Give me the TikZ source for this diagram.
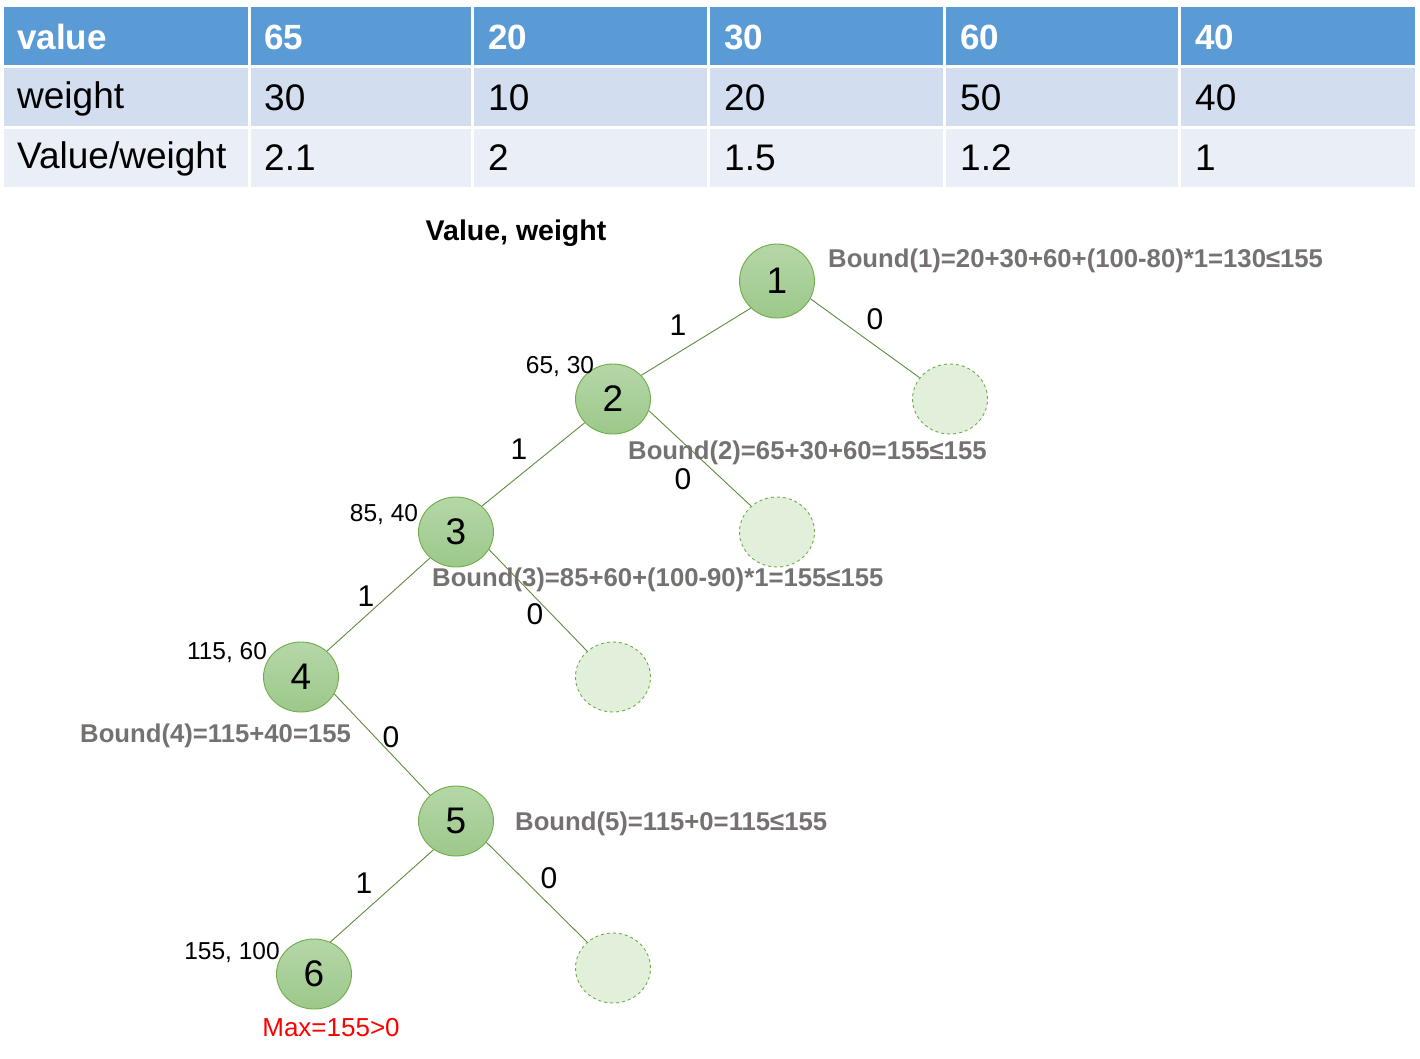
\documentclass[tikz,border=0pt]{standalone}
\usepackage{fontspec}
\setmainfont{Liberation Sans}
\usetikzlibrary{shapes.geometric}
\definecolor{hdr}{HTML}{5B9BD5}
\definecolor{rowa}{HTML}{D2DEEF}
\definecolor{rowb}{HTML}{E9EEF7}
\definecolor{gborder}{HTML}{70AD47}
\definecolor{gtop}{HTML}{B5D7A8}
\definecolor{gbot}{HTML}{9CC88A}
\definecolor{gpale}{HTML}{E2EFDA}
\definecolor{lbl}{HTML}{767171}
\definecolor{edgec}{HTML}{5E8C3E}
\tikzset{
  cellbox/.style={draw=white, line width=3pt},
  hdrtext/.style={anchor=west, inner sep=0pt, text=white, font=\fontsize{35}{40}\selectfont\bfseries},
  celltext/.style={anchor=west, inner sep=0pt, text=black, font=\fontsize{37}{40}\selectfont},
  knode/.style={ellipse, draw=gborder, line width=0.9pt, top color=gtop, bottom color=gbot, minimum width=75pt, minimum height=72pt, inner sep=0pt, font=\fontsize{37}{40}\selectfont},
  pnode/.style={ellipse, draw=gborder, dashed, line width=0.9pt, fill=gpale, minimum width=75pt, minimum height=70pt, inner sep=0pt},
  edgeline/.style={draw=edgec, line width=0.9pt},
  elabel/.style={inner sep=0pt, font=\fontsize{30}{32}\selectfont},
  vwlabel/.style={inner sep=0pt, font=\fontsize{24.5}{26}\selectfont},
  boundlabel/.style={anchor=west, inner sep=0pt, text=lbl, font=\fontsize{25.7}{28}\selectfont\bfseries},
}
\begin{document}
\begin{tikzpicture}[x=1pt,y=-1pt]
\useasboundingbox (0,0) rectangle (1420,1058);
% table
\foreach \xa/\xb in {2/249,249/472,472/708,708/944,944/1179,1179/1416}{
  \path[cellbox, fill=hdr] (\xa,5) rectangle (\xb,66);
  \path[cellbox, fill=rowa] (\xa,66) rectangle (\xb,127);
  \path[cellbox, fill=rowb] (\xa,127) rectangle (\xb,188);
}
\node[hdrtext] (h0) at (17,37) {value};
\node[hdrtext] (h1) at (264,37) {65};
\node[hdrtext] (h2) at (488,37) {20};
\node[hdrtext] (h3) at (724,37) {30};
\node[hdrtext] (h4) at (960,37) {60};
\node[hdrtext] (h5) at (1195,37) {40};
\node[celltext] (w0) at (17,99) {weight};
\node[celltext] (w1) at (264,98) {30};
\node[celltext] (w2) at (488,98) {10};
\node[celltext] (w3) at (724,98) {20};
\node[celltext] (w4) at (960,98) {50};
\node[celltext] (w5) at (1195,98) {40};
\node[celltext] (r0) at (17,159) {Value/weight};
\node[celltext] (r1) at (264,158) {2.1};
\node[celltext] (r2) at (488,158) {2};
\node[celltext] (r3) at (724,158) {1.5};
\node[celltext] (r4) at (960,158) {1.2};
\node[celltext] (r5) at (1195,158) {1};
% title
\node[inner sep=0pt, font=\fontsize{28.5}{30}\selectfont\bfseries] (title) at (516,233) {Value, weight};
% tree nodes
\node[knode, minimum height=74pt] (n1) at (777,281) {1};
\node[knode, minimum height=70pt] (n2) at (613,399) {2};
\node[knode, minimum height=70pt] (n3) at (456,532) {3};
\node[knode, minimum height=70pt] (n4) at (301,677) {4};
\node[knode, minimum height=70pt] (n5) at (456,821) {5};
\node[knode, minimum height=70pt] (n6) at (314,974) {6};
\node[pnode] (p1) at (950,399) {};
\node[pnode] (p2) at (777,532) {};
\node[pnode] (p3) at (613,677) {};
\node[pnode] (p5) at (613,968) {};
% edges
\draw[edgeline] (n1.226) -- (n2.40);
\draw[edgeline] (n1.-28) -- (p1.145);
\draw[edgeline] (n2.220) -- (n3.45);
\draw[edgeline] (n2.-18) -- (p2.135);
\draw[edgeline] (n3.225) -- (n4.45);
\draw[edgeline] (n3.-28) -- (p3.135);
\draw[edgeline] (n4.-27) -- (n5.135);
\draw[edgeline] (n5.232) -- (n6.63);
\draw[edgeline] (n5.-35) -- (p5.135);
% edge labels
\node[elabel] (e12) at (678,325) {1};
\node[elabel] (e1p) at (875,319) {0};
\node[elabel] (e23) at (519,449) {1};
\node[elabel] (e2p) at (683,479) {0};
\node[elabel] (e34) at (366,596) {1};
\node[elabel] (e3p) at (535,614) {0};
\node[elabel] (e45) at (391,737) {0};
\node[elabel] (e56) at (364,883) {1};
\node[elabel] (e5p) at (549,878) {0};
% value/weight labels
\node[vwlabel] (vw2) at (560,367) {65, 30};
\node[vwlabel] (vw3) at (384,515) {85, 40};
\node[vwlabel] (vw4) at (227,652) {115, 60};
\node[vwlabel] (vw6) at (232,952) {155, 100};
% bounds
\node[boundlabel] (b1) at (828,261) {Bound(1)=20+30+60+(100-80)*1=130≤155};
\node[boundlabel] (b2) at (628,453) {Bound(2)=65+30+60=155≤155};
\node[boundlabel] (b3) at (432,580) {Bound(3)=85+60+(100-90)*1=155≤155};
\node[boundlabel] (b4) at (80,736) {Bound(4)=115+40=155};
\node[boundlabel] (b5) at (515,824) {Bound(5)=115+0=115≤155};
\node[inner sep=0pt, text=red, font=\fontsize{26}{28}\selectfont] (mx) at (331,1028) {Max=155>0};
\end{tikzpicture}
\end{document}
